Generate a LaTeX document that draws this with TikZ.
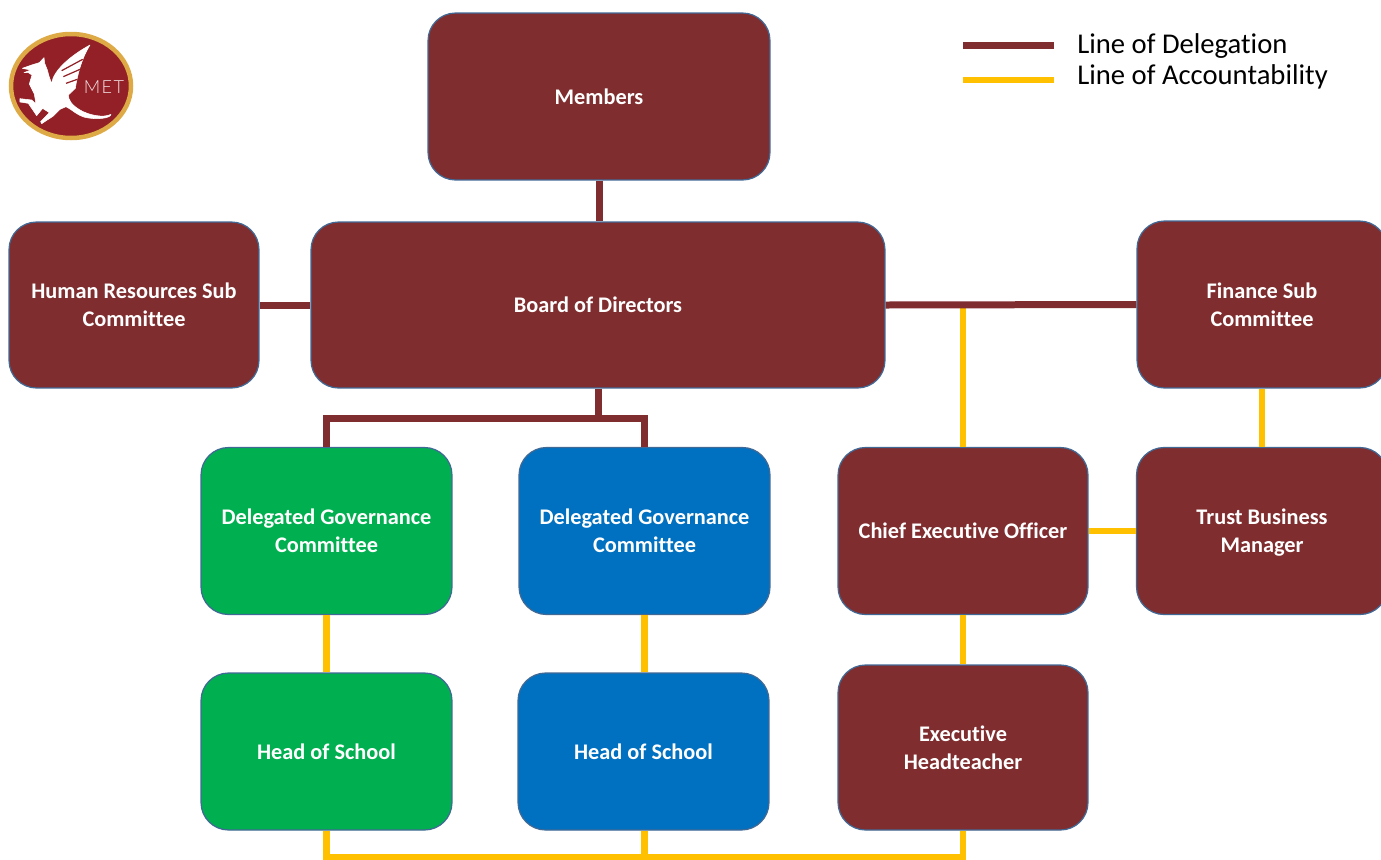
\documentclass[tikz,border=0pt]{standalone}
\usepackage{fontspec}
\setmainfont{Carlito}[Ligatures=NoCommon]
\newfontfamily\logofont{Lato Light}[LetterSpace=8]
\definecolor{metmaroon}{RGB}{127,45,47}
\definecolor{metgreen}{RGB}{0,176,80}
\definecolor{metblue}{RGB}{0,112,192}
\definecolor{metyellow}{RGB}{255,192,0}
\definecolor{metedge}{RGB}{65,105,150}
\definecolor{metgold}{RGB}{222,170,70}
\definecolor{metred}{RGB}{146,32,38}
\tikzset{
  orgbox/.style={draw=metedge, line width=0.7pt, rounded corners=0.55cm, align=center,
    text=white, inner sep=0pt, minimum width=5cm, minimum height=3.34cm,
    font=\fontsize{12.7}{15.9}\selectfont\bfseries},
  delegation/.style={draw=metmaroon, line width=0.14cm},
  accountable/.style={draw=metyellow, line width=0.135cm}
}
\begin{document}
\begin{tikzpicture}[x=0.02cm,y=-0.02cm]
\path[use as bounding box, clip] (0,0) rectangle (1381,859);
%% the boxes
\node[orgbox, fill=metmaroon, minimum width=6.84cm] (members) at (599,96.5) {Members};
\node[orgbox, fill=metmaroon, minimum width=11.48cm, minimum height=3.32cm] (board) at (598,305) {Board of Directors};
\node[orgbox, fill=metmaroon, minimum height=3.32cm] (hr) at (134,305) {Human Resources Sub\\Committee};
\node[orgbox, fill=metmaroon] (finance) at (1262,304.5) {Finance Sub\\Committee};
\node[orgbox, fill=metgreen, minimum width=5.02cm] (greengov) at (326.5,531) {Delegated Governance\\Committee};
\node[orgbox, fill=metblue, minimum width=5.02cm] (bluegov) at (644.5,531) {Delegated Governance\\Committee};
\node[orgbox, fill=metmaroon] (ceo) at (963,531) {Chief Executive Officer};
\node[orgbox, fill=metmaroon, minimum width=5.02cm] (manager) at (1262,531) {Trust Business\\\smash{Manager}};
\node[orgbox, fill=metgreen, minimum width=5.02cm, minimum height=3.14cm] (greenhead) at (326.5,751.5) {Head of School};
\node[orgbox, fill=metblue, minimum width=5.02cm, minimum height=3.14cm] (bluehead) at (643.5,751.5) {Head of School};
\node[orgbox, fill=metmaroon, minimum height=3.3cm] (exec) at (963,747.5) {Executive\\Headteacher};
%% lines of accountability
\coordinate (ceotap) at (ceo.north |- board.east);
\coordinate (busend) at (963,857);
\draw[accountable] (ceotap) -- (ceo.north);
\foreach \from/\to in {finance/manager, ceo/exec, greengov/greenhead, bluegov/bluehead}
{
  \draw[accountable] (\from.south) -- (\from.south |- \to.north);
}
\draw[accountable] (ceo.east) -- (manager.west);
\draw[accountable] (greenhead.south) |- (busend) -- (exec.south);
\draw[accountable] (bluegov.south |- bluehead.south) -- (bluegov.south |- busend);
%% lines of delegation
\coordinate (trunk) at (598,418);
\draw[delegation] (members.south) -- (members.south |- board.north);
\draw[delegation] (hr.east) -- (board.west);
\draw[delegation] (board.east) -- (finance.west);
\draw[delegation] (board.south) -- (trunk);
\draw[delegation] (greengov.north) |- (trunk) -| (bluegov.north);
%% legend
\coordinate (delstart) at (963,45);
\coordinate (delend) at (1054,45);
\coordinate (accstart) at (963,80);
\coordinate (accend) at (1054,80);
\draw[delegation] (delstart) -- (delend);
\draw[accountable] (accstart) -- (accend);
\node[anchor=west, inner sep=0pt, font=\fontsize{16.3}{18}\selectfont] (dellabel) at (1077,46) {Line of Delegation};
\node[anchor=west, inner sep=0pt, font=\fontsize{16.3}{18}\selectfont] (acclabel) at (1077,77) {Line of Accountability};
%% logo
\fill[metred, draw=metgold, line width=0.09cm] (71,86) ellipse [x radius=60, y radius=52];
\begin{scope}[shift={(0,20)}, x=0.00667cm, y=-0.00667cm]
\fill[white, draw=white, line width=0.3pt, line join=round] (67,145) -- (95,135) -- (118,128) -- (132,113) -- (134,130)
  -- (142,150) -- (148,172) -- (155,190)
  .. controls (160,150) and (215,105) .. (270,75)
  .. controls (245,115) and (232,165) .. (226,205)
  -- (205,225) .. controls (205,240) and (215,255) .. (240,270)
  .. controls (265,285) and (310,295) .. (333,283)
  .. controls (332,295) and (290,300) .. (255,292)
  .. controls (230,285) and (215,268) .. (198,260)
  -- (180,268) -- (160,288) -- (125,311) -- (122,305) -- (148,278) -- (128,265)
  -- (110,287) -- (85,250) -- (60,246) -- (60,236) -- (95,240) -- (108,252)
  -- (103,222) -- (88,192) -- (96,165) -- (85,158) -- (72,158) -- (92,150) -- cycle;
\foreach \xa/\ya/\xb/\yb in {185/152/248/118, 190/170/240/148, 198/190/232/178}
{
  \draw[metred, line width=0.7pt] (\xa,\ya) -- (\xb,\yb);
}
\end{scope}
\node[text=white!88!metred, inner sep=0pt, font=\logofont\fontsize{10.3}{10}\selectfont] (metlabel) at (104,87.5) {MET};
\end{tikzpicture}
\end{document}
